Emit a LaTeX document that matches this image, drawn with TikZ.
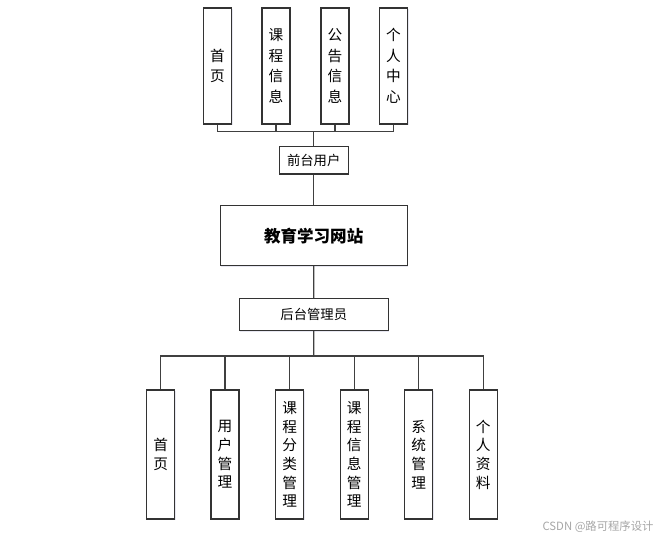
\documentclass[tikz,border=0pt]{standalone}
\usepackage{fontspec}
\newfontfamily\cjk{Noto Sans CJK SC}
\usetikzlibrary{shadows}
\begin{document}
\begin{tikzpicture}[x=0.75pt,y=-0.75pt,
  box/.style={draw=black!80, line width=0.8pt, fill=white, inner sep=0pt,
    drop shadow={shadow xshift=0.8pt, shadow yshift=-0.8pt, fill=blue!25!gray!60, opacity=0.25},
    font=\cjk\fontsize{11pt}{14pt}\selectfont, align=center},
  vbox/.style={box, minimum width=21pt},
  conn/.style={draw=black!75, line width=0.9pt}]
\useasboundingbox (0,0) rectangle (667,541);
% top boxes
\node[vbox, minimum height=87pt, font=\cjk\fontsize{11pt}{15.4pt}\selectfont] (t1) at (217.5,66) {首\\页};
\node[vbox, minimum height=87pt, font=\cjk\fontsize{11pt}{15.4pt}\selectfont] (t2) at (276,66) {课\\程\\信\\息};
\node[vbox, minimum height=87pt, font=\cjk\fontsize{11pt}{15.4pt}\selectfont] (t3) at (335,66) {公\\告\\信\\息};
\node[vbox, minimum height=87pt, font=\cjk\fontsize{11pt}{15.4pt}\selectfont] (t4) at (393.5,66) {个\\人\\中\\心};
\node[box, minimum width=51.75pt, minimum height=20.6pt, font=\cjk\fontsize{10pt}{12pt}\selectfont] (front) at (313.7,160.3) {前台用户};
\node[box, minimum width=140pt, minimum height=45pt, font=\cjk\bfseries\fontsize{12.4pt}{15pt}\selectfont] (main) at (313.7,235.7) {教育学习网站};
\node[box, minimum width=111.75pt, minimum height=24pt, font=\cjk\fontsize{10pt}{12pt}\selectfont] (back) at (313.8,314.7) {后台管理员};
% bottom boxes
\node[vbox, minimum height=96.75pt] (b1) at (160.7,454.5) {首\\页};
\node[vbox, minimum height=96.75pt] (b2) at (225,454.5) {用\\户\\管\\理};
\node[vbox, minimum height=96.75pt] (b3) at (289.7,454.5) {课\\程\\分\\类\\管\\理};
\node[vbox, minimum height=96.75pt] (b4) at (354.3,454.5) {课\\程\\信\\息\\管\\理};
\node[vbox, minimum height=96.75pt] (b5) at (418.8,454.5) {系\\统\\管\\理};
\node[vbox, minimum height=96.75pt] (b6) at (483.3,454.5) {个\\人\\资\\料};
% connectors
\coordinate (busT) at (313.7,131.7);
\coordinate (busB) at (313.7,356);
\draw[conn] (t1.south) |- (busT);
\draw[conn] (t2.south) |- (busT);
\draw[conn] (t3.south) |- (busT);
\draw[conn] (t4.south) |- (busT);
\draw[conn] (busT) -- (front.north);
\draw[conn] (front.south) -- (main.north);
\draw[conn] (main.south) -- (back.north);
\draw[conn] (back.south) -- (busB);
\foreach \b in {b1,b2,b3,b4,b5,b6} \draw[conn] (busB) -| (\b.north);
% watermark
\node[text=black!35, font=\cjk\fontsize{8.5pt}{10pt}\selectfont] (wm) at (598,527) {CSDN @路可程序设计};
\end{tikzpicture}
\end{document}
